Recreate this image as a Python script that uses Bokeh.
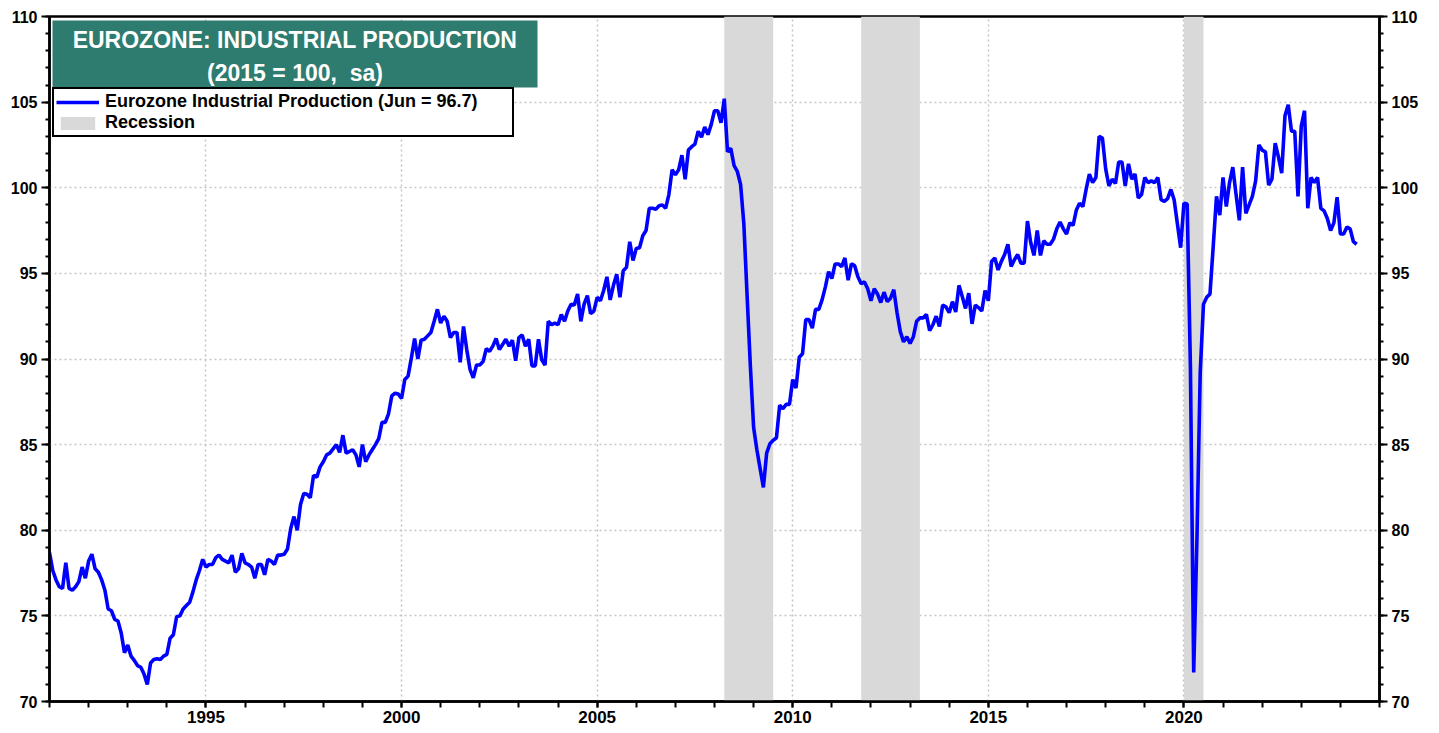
from bokeh.plotting import figure
from bokeh.models import (FixedTicker, LinearAxis, Range1d, Legend, LegendItem,
                          Label, BoxAnnotation, ColumnDataSource)
from bokeh.embed import file_html
from bokeh.resources import INLINE

# Eurozone industrial production, monthly (2015 = 100, sa)
ip_1991 = [78.7, 77.65, 77.1, 76.7, 76.6, 78.1, 76.6, 76.5, 76.7, 77.0, 77.85, 77.2]
ip_1992 = [78.2, 78.6, 77.75, 77.55, 77.1, 76.5, 75.4, 75.3, 74.8, 74.7, 74.0, 72.85]
ip_1993 = [73.3, 72.65, 72.4, 72.1, 72.0, 71.6, 71.0, 72.25, 72.45, 72.5, 72.45, 72.65]
ip_1994 = [72.75, 73.7, 73.9, 74.95, 75.0, 75.4, 75.6, 75.8, 76.4, 77.1, 77.65, 78.3]
ip_1995 = [77.85, 78.0, 78.0, 78.4, 78.55, 78.3, 78.2, 78.1, 78.55, 77.55, 77.75, 78.65]
ip_1996 = [78.1, 78.0, 77.85, 77.2, 78.0, 78.0, 77.4, 78.3, 78.2, 78.0, 78.55, 78.55]
ip_1997 = [78.6, 78.9, 80.1, 80.8, 80.0, 81.5, 82.15, 82.1, 81.9, 83.2, 83.1, 83.7]
ip_1998 = [84.0, 84.4, 84.5, 84.75, 85.0, 84.55, 85.55, 84.5, 84.6, 84.7, 84.4, 83.7]
ip_1999 = [85.0, 84.0, 84.4, 84.7, 85.0, 85.35, 86.3, 86.3, 86.8, 87.85, 88.0, 87.95]
ip_2000 = [87.7, 88.8, 89.0, 90.05, 91.2, 90.0, 91.1, 91.15, 91.35, 91.55, 92.2, 92.9]
ip_2001 = [92.1, 92.5, 92.2, 91.25, 91.55, 91.55, 89.8, 91.9, 90.55, 89.4, 88.9, 89.65]
ip_2002 = [89.65, 89.85, 90.6, 90.45, 90.75, 91.2, 90.55, 90.85, 91.15, 90.75, 91.1, 89.9]
ip_2003 = [91.25, 91.4, 90.75, 91.15, 89.6, 89.6, 91.15, 89.95, 89.65, 92.2, 92.0, 92.1]
ip_2004 = [92.0, 92.6, 92.2, 92.8, 93.2, 93.15, 93.8, 92.2, 93.2, 93.7, 92.65, 92.8]
ip_2005 = [93.6, 93.4, 94.0, 94.8, 93.45, 94.3, 94.95, 93.6, 95.15, 95.35, 96.85, 95.75]
ip_2006 = [96.45, 96.5, 97.2, 97.5, 98.8, 98.8, 98.75, 98.95, 99.0, 98.8, 99.6, 101.05]
ip_2007 = [100.75, 101.05, 101.9, 100.5, 102.2, 102.4, 102.55, 103.3, 102.95, 103.55, 103.1, 103.7]
ip_2008 = [104.5, 104.5, 103.8, 105.2, 102.1, 102.3, 101.3, 100.95, 100.2, 97.9, 93.7, 89.6]
ip_2009 = [86.0, 84.7, 83.6, 82.5, 84.5, 85.05, 85.25, 85.4, 87.3, 87.1, 87.35, 87.35]
ip_2010 = [88.8, 88.3, 90.1, 90.3, 92.3, 92.3, 91.8, 92.9, 92.9, 93.45, 94.2, 95.1]
ip_2011 = [94.7, 95.55, 95.55, 95.4, 95.9, 94.6, 95.55, 95.45, 94.8, 94.4, 94.5, 94.1]
ip_2012 = [93.4, 94.1, 93.8, 93.3, 93.9, 93.35, 93.55, 94.05, 92.7, 91.6, 91.0, 91.3]
ip_2013 = [90.9, 91.3, 92.2, 92.4, 92.4, 92.6, 91.65, 92.0, 92.5, 91.9, 93.15, 93.05]
ip_2014 = [92.7, 93.35, 92.75, 94.3, 93.65, 92.95, 93.85, 92.05, 93.15, 93.0, 92.8, 94.0]
ip_2015 = [93.4, 95.7, 95.9, 95.2, 95.7, 96.1, 96.7, 95.4, 95.8, 96.1, 95.6, 95.6]
ip_2016 = [98.05, 96.8, 96.05, 97.5, 96.05, 96.9, 96.7, 96.7, 97.0, 97.6, 98.0, 97.6]
ip_2017 = [97.3, 97.95, 97.8, 98.7, 99.1, 98.9, 99.9, 100.8, 100.3, 100.6, 103.0, 102.9]
ip_2018 = [101.1, 100.1, 100.5, 100.25, 101.5, 101.5, 100.1, 101.4, 100.5, 100.8, 99.4, 99.6]
ip_2019 = [100.6, 100.3, 100.4, 100.3, 100.6, 99.3, 99.2, 99.36, 99.9, 99.3, 97.9, 96.5]
ip_2020 = [99.1, 99.05, 89.5, 71.7, 79.5, 89.2, 93.2, 93.6, 93.8, 96.6, 99.5, 98.4]
ip_2021 = [100.6, 98.9, 100.3, 101.2, 99.6, 98.1, 101.2, 98.5, 99.0, 99.5, 100.4, 102.5]
ip_2022 = [102.2, 102.1, 100.15, 100.5, 102.6, 101.8, 100.85, 104.2, 104.85, 103.3, 103.3, 99.5]
ip_2023 = [103.6, 104.5, 98.8, 100.6, 100.3, 100.6, 98.8, 98.65, 98.2, 97.5, 97.95, 99.45]
ip_2024 = [97.3, 97.3, 97.7, 97.6, 96.85, 96.7]

years = list(range(1991, 2025))
yearly = [ip_1991, ip_1992, ip_1993, ip_1994, ip_1995, ip_1996, ip_1997, ip_1998,
          ip_1999, ip_2000, ip_2001, ip_2002, ip_2003, ip_2004, ip_2005, ip_2006,
          ip_2007, ip_2008, ip_2009, ip_2010, ip_2011, ip_2012, ip_2013, ip_2014,
          ip_2015, ip_2016, ip_2017, ip_2018, ip_2019, ip_2020, ip_2021, ip_2022,
          ip_2023, ip_2024]

# Recession periods (decimal years)
rec_start = [2008.25, 2011.75, 2020.0]
rec_end = [2009.5, 2013.25, 2020.5]

x_tick_labels = [1995, 2000, 2005, 2010, 2015, 2020]
y_tick_labels = [70, 75, 80, 85, 90, 95, 100, 105, 110]

dates, values = [], []
for yr, arr in zip(years, yearly):
    for i, v in enumerate(arr):
        dates.append(yr + i / 12.0)
        values.append(v)
src = ColumnDataSource(dict(date=dates, ip=values))

FONT = "Liberation Sans"
X0, X1, Y0, Y1 = 1991, 2025, 70, 110
FL, FT, FW, FH = 49, 16, 1330, 685   # frame position on page (px)


def xd(px):
    return X0 + (px - FL) * (X1 - X0) / FW


def yd(py):
    return Y1 - (py - FT) * (Y1 - Y0) / FH


p = figure(width=1430, height=731, x_range=Range1d(X0, X1), y_range=Range1d(Y0, Y1),
           output_backend="svg", toolbar_location=None,
           min_border_left=FL, min_border_right=1430 - FL - FW, min_border_top=FT,
           min_border_bottom=731 - FT - FH)
p.outline_line_color = "black"
p.outline_line_width = 2.5
p.background_fill_color = "white"
p.border_fill_color = "white"

rec = p.quad(left=rec_start, right=rec_end, bottom=Y0, top=Y1,
             fill_color="#D9D9D9", line_color=None)
ln = p.line(x="date", y="ip", source=src, line_color="#0000FF", line_width=3.6)

# axes
xt = FixedTicker(ticks=x_tick_labels, minor_ticks=list(range(1991, 2026)))
yt = FixedTicker(ticks=y_tick_labels, minor_ticks=list(range(70, 111)))
p.xaxis.ticker = xt
p.yaxis.ticker = yt
p.xgrid.ticker = xt
p.ygrid.ticker = yt

right = LinearAxis(ticker=yt)
p.add_layout(right, "right")

for ax in p.yaxis:
    ax.major_tick_out = 8
    ax.major_tick_in = 0
    ax.minor_tick_out = 4
    ax.minor_tick_in = 0
    ax.major_label_standoff = 4
for ax in p.xaxis:
    ax.major_tick_out = 6
    ax.major_tick_in = 0
    ax.minor_tick_out = 6
    ax.minor_tick_in = 0
    ax.major_label_standoff = 3
for ax in list(p.xaxis) + list(p.yaxis):
    ax.axis_line_width = 2.5
    ax.axis_line_color = "black"
    ax.major_tick_line_width = 2
    ax.minor_tick_line_width = 2
    ax.major_tick_line_color = "black"
    ax.minor_tick_line_color = "black"
    ax.major_label_text_font = FONT
    ax.major_label_text_font_style = "bold"
    ax.major_label_text_color = "black"
    ax.major_label_text_font_size = "16px"
p.xaxis.major_label_text_font_size = "17px"

for g in (p.xgrid, p.ygrid):
    g.grid_line_color = "#C4C4C4"
    g.grid_line_dash = "2 3"
    g.grid_line_width = 1.5

# title box
p.add_layout(BoxAnnotation(left=xd(52), right=xd(537), top=yd(20), bottom=yd(87),
                           fill_color="#2E7B6F", fill_alpha=1.0, line_color=None,
                           level="overlay"))
cx = xd((52 + 537) / 2)
p.add_layout(Label(x=cx, y=yd(39), text="EUROZONE: INDUSTRIAL PRODUCTION",
                   text_font=FONT, text_font_style="bold", text_font_size="23px",
                   text_color="white", text_align="center", text_baseline="middle",
                   level="overlay"))
p.add_layout(Label(x=cx, y=yd(72), text="(2015 = 100,\u00a0 sa)",
                   text_font=FONT, text_font_style="bold", text_font_size="23px",
                   text_color="white", text_align="center", text_baseline="middle",
                   level="overlay"))

legend = Legend(items=[LegendItem(label="Eurozone Industrial Production (Jun = 96.7)", renderers=[ln]),
                       LegendItem(label="Recession", renderers=[rec])],
                location=(3, FH - (137 - FT)), margin=0, padding=2, spacing=0,
                glyph_width=43, glyph_height=16, label_height=18, label_width=405,
                label_standoff=6, border_line_color="black", border_line_width=2,
                border_line_alpha=1.0,
                background_fill_color="white", background_fill_alpha=1.0,
                label_text_font=FONT, label_text_font_style="bold",
                label_text_font_size="18px", label_text_color="black")
p.add_layout(legend)

open("out.html", "w").write(file_html(p, INLINE))
